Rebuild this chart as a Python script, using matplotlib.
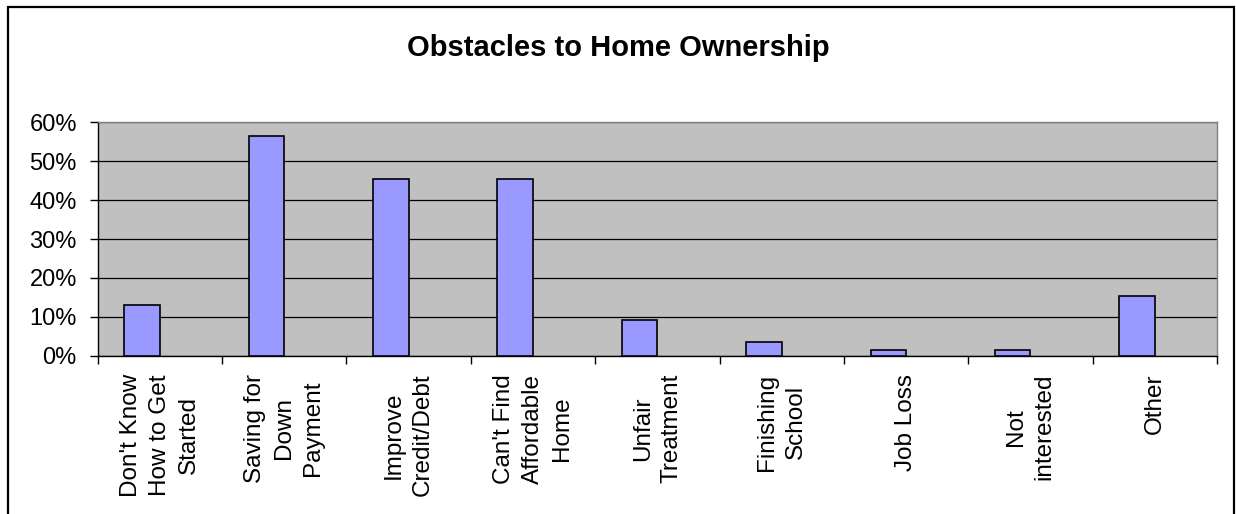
import matplotlib
matplotlib.use("Agg")
import matplotlib.pyplot as plt
from matplotlib.patches import Rectangle
import numpy as np

# data
categories = [
    "Don't Know\nHow to Get\nStarted",
    "Saving for\nDown\nPayment",
    "Improve\nCredit/Debt",
    "Can't Find\nAffordable\nHome",
    "Unfair\nTreatment",
    "Finishing\nSchool",
    "Job Loss",
    "Not\ninterested",
    "Other",
]
values = [0.13, 0.566, 0.455, 0.454, 0.092, 0.035, 0.015, 0.015, 0.153]
y_ticks = [0.0, 0.1, 0.2, 0.3, 0.4, 0.5, 0.6]

plt.rcParams['font.family'] = ['Liberation Sans', 'DejaVu Sans']

W, H = 1236, 514
fig = plt.figure(figsize=(W / 100, H / 100), dpi=100)
fig.patch.set_facecolor("white")

# outer chart border (bottom edge runs off the image)
fig.patches.append(Rectangle((7.5 / W, -10 / H), 1226 / W, (514 - 7 + 10) / H,
                             transform=fig.transFigure, fill=False,
                             edgecolor="black", linewidth=1.6))

ax = fig.add_axes([97.7 / W, 1 - 355.7 / H, (1217 - 97.7) / W, (355.7 - 122.3) / H])
ax.set_facecolor("#C0C0C0")

x = np.arange(len(categories))
ax.bar(x - 0.143, values, width=0.286, color="#9999FF", edgecolor="black",
       linewidth=1.2, zorder=3)

ax.set_xlim(-0.5, len(categories) - 0.5)
ax.set_ylim(0, 0.6)
ax.set_yticks(y_ticks)
ax.set_yticklabels([f"{int(round(v * 100))}%" for v in y_ticks], fontsize=17)
ax.yaxis.grid(True, color="black", linewidth=0.9, zorder=1)
ax.set_axisbelow(True)

# category boundaries as ticks, labels at centres
ax.set_xticks(np.arange(-0.5, len(categories), 1.0))
ax.set_xticklabels([])
ax.set_xticks(x, minor=True)
ax.set_xticklabels(categories, minor=True, rotation=90, fontsize=17.5,
                   va="top", ha="center", multialignment="center", linespacing=1.4)
ax.tick_params(axis="x", which="minor", length=0, pad=13)
ax.tick_params(axis="x", which="major", direction="out", length=6, width=1, color="black")
ax.tick_params(axis="y", direction="out", length=6, width=1, pad=9)

for s in ("left", "bottom"):
    ax.spines[s].set_color("black")
    ax.spines[s].set_linewidth(1.0)
for s in ("top", "right"):
    ax.spines[s].set_color("#808080")
    ax.spines[s].set_linewidth(1.0)

fig.text(0.5, 1 - 48 / H, "Obstacles to Home Ownership", ha="center", va="center",
         fontsize=21, fontweight="bold")

fig.savefig("out.png", dpi=100)
